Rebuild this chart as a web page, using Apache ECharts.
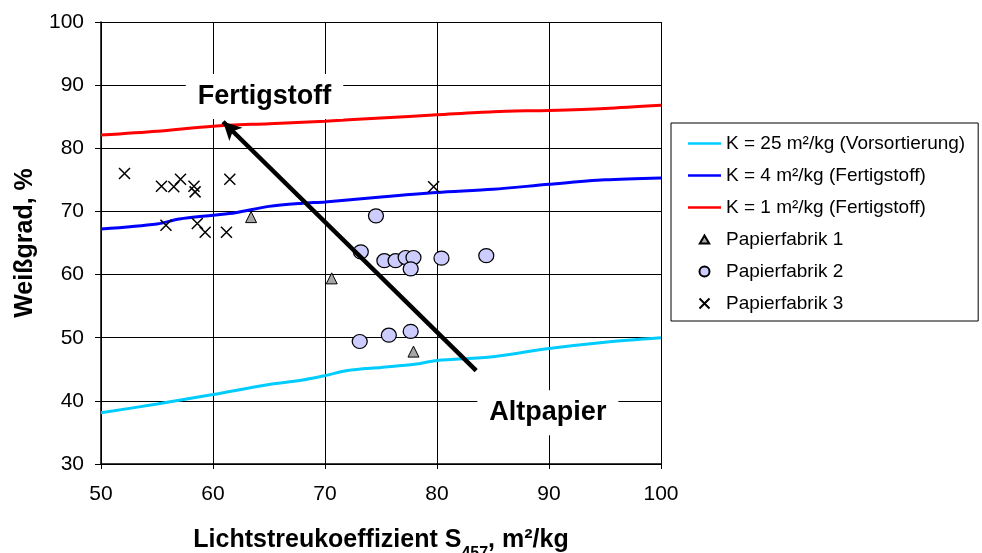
<!DOCTYPE html>
<html><head><meta charset="utf-8">
<script src="https://cdn.jsdelivr.net/npm/echarts@6/dist/echarts.min.js"></script>
<style>html,body{margin:0;padding:0;background:#fff}#c{width:982px;height:553px}</style>
</head><body><div id="c"></div>
<script>
const xTicks = [50,60,70,80,90,100];
const yTicks = [30,40,50,60,70,80,90,100];
const seriesNames = ['K = 25 m²/kg (Vorsortierung)','K = 4 m²/kg (Fertigstoff)','K = 1 m²/kg (Fertigstoff)','Papierfabrik 1','Papierfabrik 2','Papierfabrik 3'];
const curveK25 = [[50,38.1],[55,39.5],[60,41.0],[65,42.6],[68,43.3],[70,44.0],[72,44.8],[75,45.3],[78,45.8],[80,46.4],[85,47.0],[90,48.3],[95,49.3],[100,50.0]];
const curveK4 = [[50,67.2],[55,68.0],[57,68.8],[60,69.4],[62,69.8],[65,70.8],[68,71.3],[70,71.5],[75,72.3],[80,73.0],[85,73.5],[90,74.3],[95,75.0],[100,75.3]];
const curveK1 = [[50,82.1],[55,82.7],[60,83.5],[65,83.9],[70,84.3],[75,84.8],[80,85.3],[85,85.8],[90,86.0],[95,86.3],[100,86.8]];
const fabrik1 = [[63.4,69.1],[70.6,59.4],[77.9,47.8]];
const fabrik2 = [[74.55,69.3],[73.2,63.6],[75.3,62.2],[76.3,62.2],[77.2,62.7],[77.9,62.7],[77.65,60.9],[80.4,62.6],[84.4,63.0],[73.1,49.4],[75.7,50.4],[77.65,51.0]];
const fabrik3 = [[52.1,76.0],[55.4,74.0],[56.5,73.9],[57.1,75.1],[58.3,74.0],[58.4,73.1],[61.5,75.1],[55.8,67.8],[58.6,68.1],[59.3,66.7],[61.2,66.7],[79.7,73.9]];
const arrowFrom = [83.5,44.8];
const arrowTo = [60.9,84.2];
const annotations = [{name:'Fertigstoff', value:[64.6,88.2]},{name:'Altpapier', value:[89.9,38.1]}];

const chart = echarts.init(document.getElementById('c'), null, {renderer:'canvas'});
const font = 'Liberation Sans, Arial, sans-serif';
const lineColors = ['#00ccff','#0000ff','#ff0000'];
const lineSeries = (name, data, color) => ({
  name, type:'line', data, symbol:'none', smooth:0.3,
  lineStyle:{color, width:3}, itemStyle:{color}, z:3
});
const lineIcon = 'path://M0,0M33,9M0,3.2h33v2.6h-33z';
const triIcon = 'path://M0,0M33,9M16.5,0.5L21.2,8.5L11.8,8.5Z';
const legendData = [
  {name:seriesNames[0], icon:lineIcon},
  {name:seriesNames[1], icon:lineIcon},
  {name:seriesNames[2], icon:lineIcon},
  {name:seriesNames[3], icon:triIcon},
  {name:seriesNames[4]},
  {name:seriesNames[5]}
];
chart.setOption({
  animation:false,
  textStyle:{fontFamily:font},
  grid:{left:101, top:22, right:321, bottom:89, show:false, containLabel:false, outerBoundsMode:'none'},
  xAxis:{
    type:'value', min:xTicks[0], max:xTicks[xTicks.length-1], interval:10,
    axisLine:{show:true, onZero:false, lineStyle:{color:'#000', width:1.5}},
    axisTick:{show:true, length:5, lineStyle:{color:'#000'}},
    splitLine:{show:true, lineStyle:{color:'#000', width:1}},
    axisLabel:{fontSize:21, color:'#000', margin:20, fontFamily:font},
    name:'{b|Lichtstreukoeffizient S}{s|457}{b|, m²/kg}', nameLocation:'middle', nameGap:64,
    nameTextStyle:{rich:{b:{fontSize:25, fontWeight:'bold', color:'#000', fontFamily:font},
      s:{fontSize:16, fontWeight:'bold', color:'#000', fontFamily:font, verticalAlign:'bottom', padding:[0,0,-9,0]}}}
  },
  yAxis:{
    type:'value', min:yTicks[0], max:yTicks[yTicks.length-1], interval:10,
    axisLine:{show:true, onZero:false, lineStyle:{color:'#000', width:1.5}},
    axisTick:{show:true, length:6, lineStyle:{color:'#000'}},
    splitLine:{show:true, lineStyle:{color:'#000', width:1}},
    axisLabel:{fontSize:21, color:'#000', margin:17, fontFamily:font},
    name:'Weißgrad, %', nameLocation:'middle', nameGap:61,
    nameTextStyle:{fontSize:25, fontWeight:'bold', color:'#000', fontFamily:font}
  },
  legend:{
    orient:'vertical', left:671, top:123,
    data:legendData,
    borderColor:'#000', borderWidth:1, borderRadius:0,
    padding:[11,13,8,16], itemGap:13, itemWidth:33, itemHeight:10,
    textStyle:{fontSize:19, color:'#000', fontFamily:font}
  },
  series:[
    lineSeries(seriesNames[0], curveK25, lineColors[0]),
    lineSeries(seriesNames[1], curveK4, lineColors[1]),
    lineSeries(seriesNames[2], curveK1, lineColors[2]),
    {name:seriesNames[3], type:'scatter', data:fabrik1, symbol:'triangle', symbolSize:11,
      itemStyle:{color:'#a6a6a6', borderColor:'#000', borderWidth:1, opacity:1}, z:4},
    {name:seriesNames[4], type:'scatter', data:fabrik2, symbol:'circle', symbolSize:[15,14],
      itemStyle:{color:'#ccccff', borderColor:'#000', borderWidth:1.2, opacity:1}, z:4},
    {name:seriesNames[5], type:'scatter', data:fabrik3, symbol:'path://M0,0L10,10M10,0L0,10', symbolSize:11,
      itemStyle:{color:'transparent', borderColor:'#000', borderWidth:1.5, opacity:1}, z:4},
    {type:'line', data:[], z:6, silent:true,
      markLine:{silent:true, symbol:['none','arrow'], symbolSize:[14,18], label:{show:false},
        lineStyle:{color:'#000', width:4.5, type:'solid'},
        data:[[{coord:arrowFrom},{coord:arrowTo}]]}},
    {type:'scatter', data:annotations, symbolSize:0, z:5, silent:true,
      itemStyle:{opacity:1},
      label:{show:true, position:'inside', formatter:'{b}', fontSize:27, fontWeight:'bold', color:'#000',
        textBorderWidth:0, backgroundColor:'#fff', padding:[9,12,9,12], fontFamily:font}}
  ]
});
</script></body></html>
